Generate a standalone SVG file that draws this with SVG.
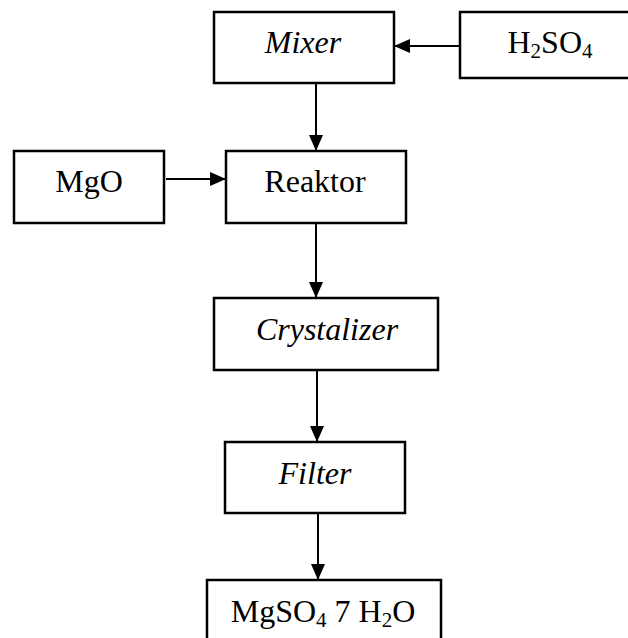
<svg xmlns="http://www.w3.org/2000/svg" width="628" height="638" viewBox="0 0 628 638">
<style>
  .box { fill: #ffffff; stroke: #000000; stroke-width: 2.5; }
  .lbl { font-family: "Liberation Serif", "Times New Roman", serif; font-size: 32px; fill: #000000; text-anchor: middle; }
  .it { font-style: italic; }
  .sub { font-size: 21px; }
  .conn { stroke: #000000; stroke-width: 2; fill: none; marker-end: url(#arr); }
</style>
<defs>
  <marker id="arr" markerUnits="userSpaceOnUse" markerWidth="16" markerHeight="14" refX="16" refY="7" orient="auto">
    <path d="M0,0 L16,7 L0,14 Z" fill="#000000"/>
  </marker>
</defs>
<rect width="628" height="638" fill="#ffffff"/>
<g id="connectors">
  <line class="conn" x1="460" y1="46" x2="394" y2="46"/>
  <line class="conn" x1="316" y1="83" x2="316" y2="151"/>
  <line class="conn" x1="166" y1="179" x2="226" y2="179"/>
  <line class="conn" x1="316" y1="223" x2="316" y2="298"/>
  <line class="conn" x1="317" y1="370" x2="317" y2="442"/>
  <line class="conn" x1="318" y1="513" x2="318" y2="580"/>
</g>
<g id="mixer">
  <rect class="box" x="214" y="12" width="180" height="71"/>
  <text class="lbl it" x="303" y="53">Mixer</text>
</g>
<g id="h2so4">
  <rect class="box" x="460" y="12" width="180" height="66"/>
  <text class="lbl" x="550" y="53">H<tspan class="sub" dy="5">2</tspan><tspan dy="-5">SO</tspan><tspan class="sub" dy="5">4</tspan></text>
</g>
<g id="mgo">
  <rect class="box" x="14" y="151" width="150" height="72"/>
  <text class="lbl" x="89" y="192">MgO</text>
</g>
<g id="reaktor">
  <rect class="box" x="226" y="151" width="180" height="72"/>
  <text class="lbl" x="315" y="192">Reaktor</text>
</g>
<g id="crystalizer">
  <rect class="box" x="214" y="298" width="224" height="72"/>
  <text class="lbl it" x="327" y="340">Crystalizer</text>
</g>
<g id="filter">
  <rect class="box" x="225" y="442" width="180" height="71"/>
  <text class="lbl it" x="315" y="484">Filter</text>
</g>
<g id="product">
  <rect class="box" x="207" y="580" width="234" height="80"/>
  <text class="lbl" x="323" y="622">MgSO<tspan class="sub" dy="5">4</tspan><tspan dy="-5"> 7 H</tspan><tspan class="sub" dy="5">2</tspan><tspan dy="-5">O</tspan></text>
</g>
</svg>
